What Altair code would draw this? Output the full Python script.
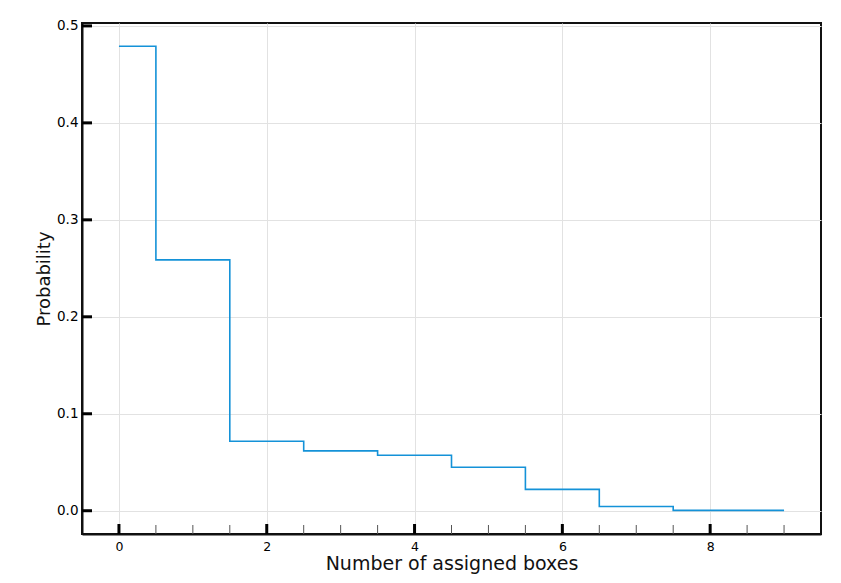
import altair as alt
import pandas as pd

# data
boxes = [0, 1, 2, 3, 4, 5, 6, 7, 8, 9]
probability = [0.479, 0.2587, 0.0716, 0.0617, 0.0572, 0.0449, 0.0220, 0.0043, 0.0004, 0.0004]

x_major = [0, 2, 4, 6, 8]
x_minor = [0.5, 1, 1.5, 2.5, 3, 3.5, 4.5, 5, 5.5, 6.5, 7, 7.5, 8.5, 9]
y_major = [0.0, 0.1, 0.2, 0.3, 0.4, 0.5]

W, H = 739, 511
FONT = "DejaVu Sans"

df = pd.DataFrame({"boxes": boxes, "probability": probability})
xs = alt.Scale(domain=[-0.5, 9.5], nice=False, zero=False)
ys = alt.Scale(domain=[-0.024, 0.503], nice=False, zero=False)

x_axis = alt.Axis(values=x_major, format="d", grid=True, gridColor="#e2e2e2", gridWidth=1,
                  ticks=False, tickSize=0, labelPadding=6, labelFontSize=12.5, labelFont=FONT,
                  labelColor="#000", domainColor="#111", domainWidth=2,
                  title="Number of assigned boxes", titleFont=FONT, titleFontSize=19,
                  titleFontWeight="normal", titleColor="#111", titlePadding=2)
y_axis = alt.Axis(values=y_major, format=".1f", grid=True, gridColor="#e2e2e2", gridWidth=1,
                  ticks=False, tickSize=0, labelPadding=4, labelFontSize=13.5, labelFont=FONT,
                  labelColor="#000", domainColor="#111", domainWidth=2,
                  title="Probability", titleFont=FONT, titleFontSize=18,
                  titleFontWeight="normal", titleColor="#111", titlePadding=3)

line = alt.Chart(df).mark_line(interpolate="step", color="#1492d8", strokeWidth=1.6).encode(
    x=alt.X("boxes:Q", scale=xs, axis=x_axis),
    y=alt.Y("probability:Q", scale=ys, axis=y_axis),
)

xmaj = alt.Chart(pd.DataFrame({"v": x_major})).mark_rule(color="#000", strokeWidth=3).encode(
    x=alt.X("v:Q", scale=xs), y=alt.value(H - 10), y2=alt.value(H))
xmin = alt.Chart(pd.DataFrame({"v": x_minor})).mark_rule(color="#555", strokeWidth=1).encode(
    x=alt.X("v:Q", scale=xs), y=alt.value(H - 9), y2=alt.value(H))
ymaj = alt.Chart(pd.DataFrame({"v": y_major})).mark_rule(color="#000", strokeWidth=3).encode(
    y=alt.Y("v:Q", scale=ys), x=alt.value(0), x2=alt.value(10))

chart = alt.layer(line, xmin, xmaj, ymaj).properties(
    width=W, height=H,
    background="white",
    autosize=alt.AutoSizeParams(type="none"),
    padding={"left": 74, "top": 15, "right": 4, "bottom": 41},
).configure_view(stroke="#111", strokeWidth=2)

chart.save("out.html", embed_options={"renderer": "svg", "actions": False})
